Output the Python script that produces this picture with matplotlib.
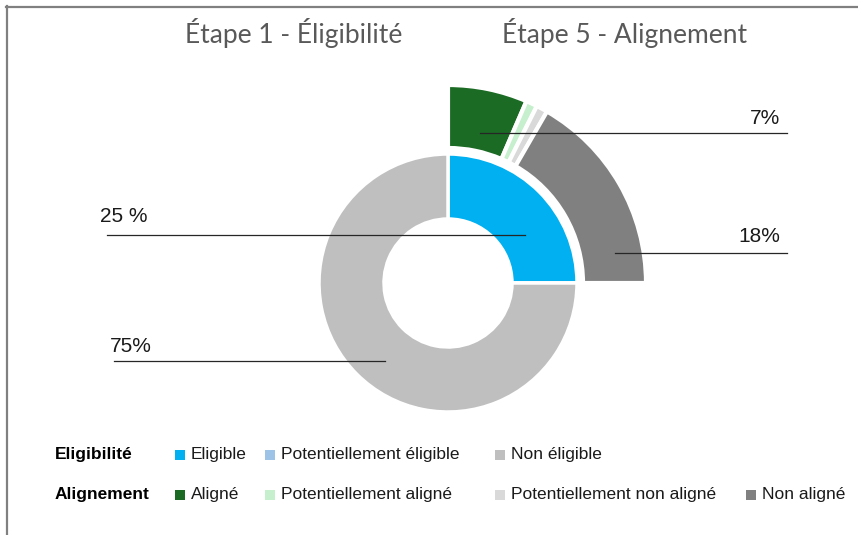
import matplotlib.pyplot as plt
from matplotlib.patches import Rectangle
from matplotlib.lines import Line2D
from matplotlib import font_manager

# --- data ---
elig_labels = ["Eligible", "Potentiellement éligible", "Non éligible"]
elig_values = [25, 0, 75]
elig_colors = ["#00B0F0", "#9DC3E6", "#BFBFBF"]

align_labels = ["Aligné", "Potentiellement aligné", "Potentiellement non aligné", "Non aligné"]
align_values = [7, 1, 1, 18]
align_colors = ["#1B6B24", "#C6EFCE", "#D9D9D9", "#808080"]

titles = ["Étape 1 - Éligibilité", "Étape 5 - Alignement"]
pct_labels = {"Eligible": "25 %", "Non éligible": "75%", "Aligné": "7%", "Non aligné": "18%"}

W, H = 858, 535
names = {f.name for f in font_manager.fontManager.ttflist}
narrow = "Liberation Sans Narrow" if "Liberation Sans Narrow" in names else "Liberation Sans"

fig = plt.figure(figsize=(W / 100, H / 100), dpi=100)
ax = fig.add_axes([0, 0, 1, 1])

cx, cy = 448, H - 283

# inner ring: eligibility
w_in, _ = ax.pie(elig_values, colors=elig_colors, startangle=90, counterclock=False,
                 radius=129, center=(cx, cy), frame=True,
                 wedgeprops=dict(width=65, edgecolor="white", linewidth=2.5))

# outer ring: alignment, spread over the eligible share only
elig_share = elig_values[0] / sum(elig_values)
scale = elig_share / sum(align_values)
outer_vals = [v * scale for v in align_values] + [1 - elig_share]
w_out, _ = ax.pie(outer_vals, colors=align_colors + ["none"], startangle=90, counterclock=False,
                  radius=198, center=(cx, cy), frame=True,
                  wedgeprops=dict(width=63, edgecolor="white", linewidth=3))
w_out[-1].set_edgecolor("none")
ax.set_xlim(0, W)
ax.set_ylim(0, H)
ax.set_aspect("equal")
ax.axis("off")

# leader lines + percentage labels (line end -> label position)
callouts = [
    ("Eligible", (525, 235), (107, 235), (100, 217), "left"),
    ("Non éligible", (385, 361), (114, 361), (110, 347), "left"),
    ("Aligné", (480, 133), (787, 133), (780, 118), "right"),
    ("Non aligné", (615, 253), (787, 253), (780, 237), "right"),
]
for key, p0, p1, pt, ha in callouts:
    ax.plot([p0[0], p1[0]], [H - p0[1], H - p1[1]], color="#262626", lw=0.9)
    ax.text(pt[0], H - pt[1], pct_labels[key], ha=ha, va="center", fontsize=15,
            family="Liberation Sans", color="#1a1a1a")

# titles
ax.text(294, H - 33, titles[0], ha="center", va="center", fontsize=19, color="#595959", family="Lato")
ax.text(625, H - 33, titles[1], ha="center", va="center", fontsize=19, color="#595959", family="Lato")

# legend rows
rows = [
    ("Eligibilité", 455, elig_labels, elig_colors, [175, 265, 495]),
    ("Alignement", 495, align_labels, align_colors, [175, 265, 495, 746]),
]
for head, y, labs, cols, xs in rows:
    ax.text(55, H - y, head, ha="left", va="center", fontsize=12.5, fontweight="bold", family=narrow)
    for lab, col, x in zip(labs, cols, xs):
        ax.add_patch(Rectangle((x, H - y - 5), 10, 10, color=col, lw=0))
        ax.text(x + 16, H - y, lab, ha="left", va="center", fontsize=12.5, family=narrow, color="#1a1a1a")

# frame lines top and left
fig.add_artist(Line2D([6 / W, 1], [1 - 6.5 / H, 1 - 6.5 / H], color="#808080", lw=1.6))
fig.add_artist(Line2D([6.5 / W, 6.5 / W], [0, 1 - 6 / H], color="#808080", lw=1.6))

fig.savefig("out.png", dpi=100)
